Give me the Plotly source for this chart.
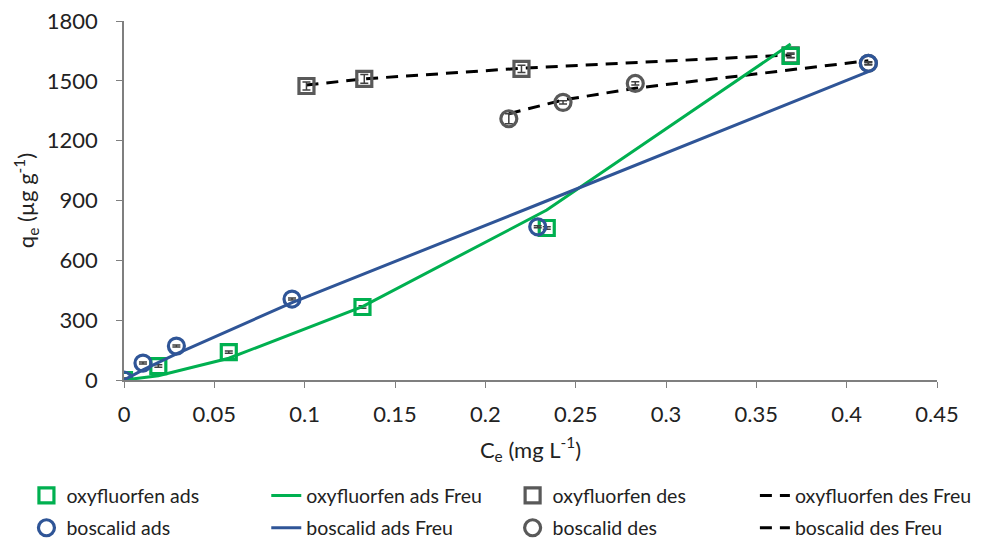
import plotly.graph_objects as go

# ---- data ----
oxy_ads_x = [0, 0.019, 0.058, 0.132, 0.234, 0.369]
oxy_ads_y = [0, 70, 140, 366, 762, 1625]
oxy_ads_err = [8, 6, 6, 6, 6, 8]
oxy_ads_fit = [0, 21, 109, 368, 852, 1685]

bos_ads_x = [0, 0.0105, 0.029, 0.093, 0.229, 0.412]
bos_ads_y = [0, 85, 170, 406, 768, 1588]
bos_ads_err = [10, 5, 5, 5, 5, 5]
bos_ads_fit = [0, 51, 131, 388, 880, 1546]

oxy_des_x = [0.101, 0.133, 0.220, 0.369]
oxy_des_y = [1474, 1510, 1560, 1628]
oxy_des_err = [20, 22, 18, 12]
oxy_des_fit = [1479, 1510, 1563, 1630]

bos_des_x = [0.213, 0.243, 0.283, 0.412]
bos_des_y = [1310, 1392, 1487, 1588]
bos_des_err = [25, 8, 8, 8]
bos_des_fit = [1335, 1404, 1463, 1601]

x_ticks = [0, 0.05, 0.1, 0.15, 0.2, 0.25, 0.3, 0.35, 0.4, 0.45]
x_tick_text = ["0", "0.05", "0.1", "0.15", "0.2", "0.25", "0.3", "0.35", "0.4", "0.45"]
y_ticks = [0, 300, 600, 900, 1200, 1500, 1800]

GREEN = "#00B050"
BLUE = "#2F5597"
GRAY = "#595959"
FONT = "Lato"

fig = go.Figure()

def marker_trace(x, y, err, name, symbol, color, legend, size):
    return go.Scatter(
        x=x, y=y, mode="markers", name=name, legend=legend, legendgroup=name,
        marker=dict(symbol=symbol, size=size, color=color, line=dict(color=color, width=3.2)),
        error_y=dict(type="data", array=err, visible=True, color="#404040", thickness=1.5, width=4),
    )

def line_trace(x, y, name, color, dash, legend):
    return go.Scatter(x=x, y=y, mode="lines", name=name, legend=legend, legendgroup=name,
                      line=dict(color=color, width=3, dash=dash))

fig.add_trace(line_trace(oxy_des_x, oxy_des_fit, "oxyfluorfen des Freu", "black", "12px,8px", "legend4"))
fig.add_trace(line_trace(bos_des_x, bos_des_fit, "boscalid des Freu", "black", "12px,8px", "legend4"))
fig.add_trace(marker_trace(oxy_des_x, oxy_des_y, oxy_des_err, "oxyfluorfen des", "square-open", GRAY, "legend3", 15))
fig.add_trace(marker_trace(bos_des_x, bos_des_y, bos_des_err, "boscalid des", "circle-open", GRAY, "legend3", 16))
fig.add_trace(marker_trace(oxy_ads_x, oxy_ads_y, oxy_ads_err, "oxyfluorfen ads", "square-open", GREEN, "legend", 15))
fig.add_trace(marker_trace(bos_ads_x, bos_ads_y, bos_ads_err, "boscalid ads", "circle-open", BLUE, "legend", 16))
fig.add_trace(line_trace(oxy_ads_x, oxy_ads_fit, "oxyfluorfen ads Freu", GREEN, "solid", "legend2"))
fig.add_trace(line_trace(bos_ads_x, bos_ads_fit, "boscalid ads Freu", BLUE, "solid", "legend2"))

leg_common = dict(orientation="v", yanchor="top", xanchor="left", y=-0.268,
                  font=dict(family=FONT, size=19.5, color="#222222"),
                  bgcolor="rgba(0,0,0,0)", tracegroupgap=4, traceorder="grouped",
                  itemwidth=30)

fig.update_layout(
    width=982, height=540,
    margin=dict(l=124, r=45, t=21, b=160, autoexpand=False),
    paper_bgcolor="white", plot_bgcolor="white",
    font=dict(family=FONT, size=22, color="#222222"),
    xaxis=dict(range=[0, 0.45], tickvals=x_ticks, ticktext=x_tick_text,
               showgrid=False, zeroline=False, showline=True, linecolor="#7f7f7f", linewidth=1.5,
               ticks="outside", ticklen=6, tickcolor="#7f7f7f", ticklabelstandoff=8,
               title=dict(text="C<sub>e</sub> (mg L<sup>-1</sup>)", font=dict(size=22), standoff=16)),
    yaxis=dict(range=[0, 1800], tickvals=y_ticks,
               showgrid=False, zeroline=False, showline=True, linecolor="#7f7f7f", linewidth=1.5,
               ticks="outside", ticklen=6, tickcolor="#7f7f7f", ticklabelstandoff=14,
               title=dict(text="q<sub>e</sub> (µg g<sup>-1</sup>)", font=dict(size=22), standoff=6)),
    legend=dict(leg_common, x=-0.12),
    legend2=dict(leg_common, x=0.175),
    legend3=dict(leg_common, x=0.478),
    legend4=dict(leg_common, x=0.776),
    showlegend=True,
)

fig.write_html("out.html", post_script="document.body.style.margin='0';",
               config={"displayModeBar": False})
